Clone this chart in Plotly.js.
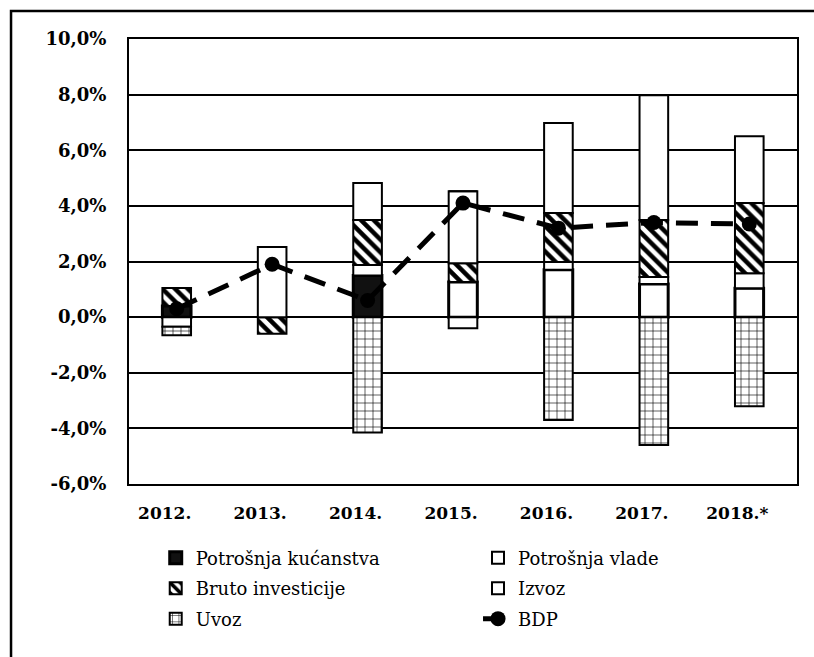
<!DOCTYPE html>
<html>
<head>
<meta charset="utf-8">
<script src="https://cdn.plot.ly/plotly-3.0.1.min.js"></script>
<style>
  html, body { margin: 0; padding: 0; background: #fff; }
  #chart { width: 814px; height: 657px; }
</style>
</head>
<body>
<div id="chart"></div>
<script>
// ---- data (percentage-point contributions to GDP growth) ----
const years = ['2012.', '2013.', '2014.', '2015.', '2016.', '2017.', '2018.*'];
const household  = [0.40, 0.00, 1.50, 1.26, 1.70, 1.19, 1.04];
const government = [-0.35, 0.00, 0.37, -0.40, 0.28, 0.25, 0.54];
const investment = [0.65, -0.60, 1.62, 0.68, 1.76, 2.05, 2.52];
const exports    = [0.00, 2.52, 1.33, 2.59, 3.24, 4.49, 2.40];
const imports    = [-0.30, 0.00, -4.15, 0.00, -3.70, -4.60, -3.20];
const gdp        = [0.30, 1.90, 0.60, 4.10, 3.20, 3.40, 3.35];

const yTickVals = [-6, -4, -2, 0, 2, 4, 6, 8, 10];
const yTickText = ['-6,0%', '-4,0%', '-2,0%', '0,0%', '2,0%', '4,0%', '6,0%', '8,0%', '10,0%'];

// ---- styles ----
const householdFill = ['#111', '#fff', '#111', '#fff', '#fff', '#fff', '#fff'];
const serif = 'DejaVu Serif';
const outline = { color: '#000', width: 2 };

const traces = [
  { type: 'bar', name: 'Potrošnja kućanstva', x: years, y: household, legend: 'legend', legendgroup: 'g1',
    marker: { color: householdFill, line: { color: '#000', width: 3 } } },
  { type: 'bar', name: 'Potrošnja vlade', x: years, y: government, legend: 'legend2', legendgroup: 'g2',
    marker: { color: '#fff', line: outline } },
  { type: 'bar', name: 'Bruto investicije', x: years, y: investment, legend: 'legend', legendgroup: 'g3',
    marker: { color: '#fff', line: outline,
      pattern: { shape: '\\', fgcolor: '#000', bgcolor: '#fff', size: 9, solidity: 0.5 } } },
  { type: 'bar', name: 'Izvoz', x: years, y: exports, legend: 'legend2', legendgroup: 'g4',
    marker: { color: '#fff', line: outline } },
  { type: 'bar', name: 'Uvoz', x: years, y: imports, legend: 'legend', legendgroup: 'g5',
    marker: { color: '#fff', line: outline,
      pattern: { shape: '+', fgcolor: '#000', bgcolor: '#fff', size: 8, solidity: 0.15 } } },
  { type: 'scatter', mode: 'lines+markers', name: 'BDP', x: years, y: gdp, legend: 'legend2', legendgroup: 'g6',
    line: { color: '#000', width: 5, dash: '22px,13px' },
    marker: { color: '#000', size: 15, symbol: 'circle' } }
];

const legendBase = {
  orientation: 'v',
  xanchor: 'left', yanchor: 'top',
  y: -0.125,
  traceorder: 'grouped',
  tracegroupgap: 4,
  font: { family: serif, size: 18, color: '#000' },
  bgcolor: 'rgba(0,0,0,0)'
};

const layout = {
  width: 814, height: 657,
  margin: { l: 129, r: 17, t: 39, b: 173 },
  paper_bgcolor: '#fff', plot_bgcolor: '#fff',
  barmode: 'relative',
  bargap: 0.7,
  showlegend: true,
  font: { family: serif, color: '#000' },
  xaxis: {
    type: 'category',
    showgrid: false, zeroline: false,
    showline: true, mirror: true, linecolor: '#000', linewidth: 2,
    ticks: '', ticklabelstandoff: 13, ticklabelshift: -12,
    tickfont: { family: serif, size: 17, weight: 'bold', color: '#000' }
  },
  yaxis: {
    range: [-6, 10],
    tickvals: yTickVals, ticktext: yTickText,
    showgrid: true, gridcolor: '#000', gridwidth: 2,
    zeroline: true, zerolinecolor: '#000', zerolinewidth: 2,
    showline: true, mirror: true, linecolor: '#000', linewidth: 2,
    ticks: '', ticklabelstandoff: 17,
    tickfont: { family: serif, size: 18, weight: 'bold', color: '#000' }
  },
  legend: Object.assign({}, legendBase, { x: 0.04 }),
  legend2: Object.assign({}, legendBase, { x: 0.5225 }),
  shapes: [
    { type: 'rect', xref: 'paper', yref: 'paper',
      x0: -0.1766, x1: 1.2, y0: -0.42, y1: 1.0629,
      line: { color: '#000', width: 2.5 }, fillcolor: 'rgba(0,0,0,0)', layer: 'below' }
  ]
};

Plotly.newPlot('chart', traces, layout, { displayModeBar: false, staticPlot: true });
</script>
</body>
</html>
